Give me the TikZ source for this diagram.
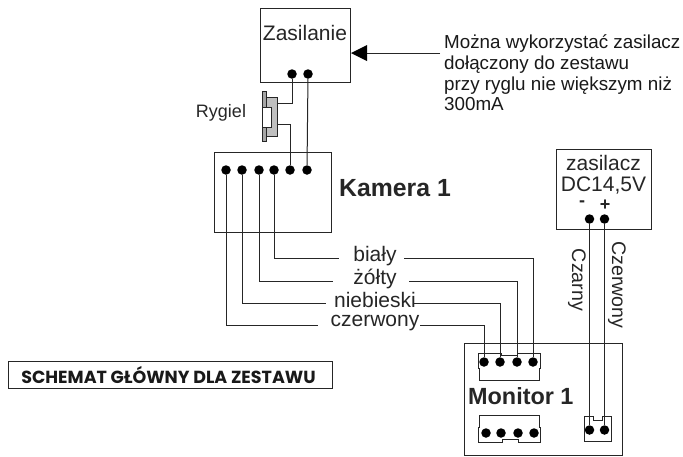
\documentclass[tikz,border=0pt]{standalone}
\usepackage{fontspec}
\setmainfont{Liberation Sans}
\newfontfamily\schemfont{Poppins}
\tikzset{
 x=1pt,y=-1pt,
 wire/.style={line width=1pt,draw=black!85},
 boxy/.style={line width=1pt,draw=black!85},
 term/.style={circle,fill=black,inner sep=0pt,minimum size=9.5pt},
 lbl/.style={inner sep=0pt,font=\fontsize{21}{23}\selectfont,text=black!85},
 blbl/.style={inner sep=0pt,font=\fontsize{24.8}{26}\bfseries\selectfont,text=black!85},
 small/.style={inner sep=0pt,align=left,anchor=north west,font=\fontsize{18.8}{20.8}\selectfont,text=black!90}
}
\begin{document}
\begin{tikzpicture}
\useasboundingbox (0,0) rectangle (683,456);
\fill[white] (0,0) rectangle (683,456);
% boxes
\draw[boxy] (260.5,8) rectangle (350,82);
\draw[boxy] (214,152) rectangle (331,232);
\draw[boxy] (556,149) rectangle (651,229);
\draw[boxy] (464,343) rectangle (622,455);
\draw[boxy] (8,361) rectangle (332,388);
% terminals
\node[term] (za) at (292,74) {};
\node[term] (zb) at (308,74) {};
\node[term] (k1) at (226,170) {};
\node[term] (k2) at (242,170) {};
\node[term] (k3) at (259,170) {};
\node[term] (k4) at (274,170) {};
\node[term] (k5) at (290,170) {};
\node[term] (k6) at (307,170) {};
\node[term] (pm) at (589.5,219) {};
\node[term] (pp) at (604.5,219) {};
\node[term] (m1) at (484,362) {};
\node[term] (m2) at (500,362) {};
\node[term] (m3) at (517,362) {};
\node[term] (m4) at (533,362) {};
\node[term] (l1) at (486,433) {};
\node[term] (l2) at (501,433) {};
\node[term] (l3) at (518,433) {};
\node[term] (l4) at (534,433) {};
\node[term] (s1) at (589.5,430) {};
\node[term] (s2) at (604.5,430) {};
% latch
\draw[boxy,fill=black!25] (266,97) rectangle (277,136);
\draw[boxy,fill=black!35] (262.5,91) rectangle (266.5,141);
\draw[boxy,fill=white] (262.5,107) rectangle (271,127);
\coordinate (la) at (277,103);
\coordinate (lb) at (277,124);
\draw[wire] (za) |- (la);
\draw[wire] (lb) -| (k5);
\draw[wire] (zb) -- (k6);
% labels
\node[lbl] at (305,33) {Zasilanie};
\node[lbl,font=\fontsize{18}{20}\selectfont] (ryg) at (221,113) {Rygiel};
\node[blbl,anchor=west] at (339,188) {Kamera 1};
\node[blbl,anchor=west,font=\fontsize{23.4}{26}\bfseries\selectfont] at (468,396) {Monitor 1};
\node[lbl] at (603.5,163) {zasilacz};
\node[lbl] at (603.5,185.5) {DC14,5V};
\node[lbl,font=\fontsize{18}{20}\bfseries\selectfont] at (582,204) {-};
\node[lbl,font=\fontsize{18}{20}\bfseries\selectfont] at (605,205) {+};
\node[lbl,rotate=-90,font=\fontsize{19.6}{22}\selectfont] at (577,280) {Czarny};
\node[lbl,rotate=-90,font=\fontsize{19.6}{22}\selectfont] at (617,285) {Czerwony};
\node[lbl] (bi) at (375,256) {biały};
\node[lbl] (zo) at (375,279) {żółty};
\node[lbl] (ni) at (375,300) {niebieski};
\node[lbl] (cz) at (375,323.5) {czerwony};
\node[small] (note) at (444,34.5) {Można wykorzystać zasilacz\\dołączony do zestawu\\przy ryglu nie większym niż\\300mA};
\node[inner sep=0pt,font=\fontsize{17.5}{20}\bfseries\selectfont,text=black!90] at (168.5,375) {\schemfont SCHEMAT GŁÓWNY DLA ZESTAWU};
% arrow
\coordinate (atip) at (351,53);
\coordinate (aend) at (440,53);
\draw[wire] (aend) -- (360,53);
\fill[black] (atip) -- (367,45) -- (367,61) -- cycle;
% camera wires
\coordinate (b1) at (339,258); \coordinate (b2) at (404,258);
\coordinate (y1) at (333,281); \coordinate (y2) at (409,281);
\coordinate (n1) at (326,303); \coordinate (n2) at (413,303);
\coordinate (c1) at (318,325); \coordinate (c2) at (420,325);
\draw[wire] (k4) |- (b1);
\draw[wire] (k3) |- (y1);
\draw[wire] (k2) |- (n1);
\draw[wire] (k1) |- (c1);
\draw[wire] (b2) -| (m4);
\draw[wire] (y2) -| (m3);
\draw[wire] (n2) -| (m2);
\draw[wire] (c2) -| (m1);
% power wires
\draw[wire] (pm) -- (s1);
\draw[wire] (pp) -- (s2);
% connectors
\draw[boxy] (478,353) -- (501,353) -- (501,355) -- (517,355) -- (517,353) -- (540,353) -- (540,368) -- (539,368) -- (539,380) -- (479,380) -- (479,368) -- (478,368) -- cycle;
\draw[boxy] (479,415) -- (539,415) -- (539,427) -- (540,427) -- (540,442) -- (518,442) -- (518,439) -- (502,439) -- (502,442) -- (478,442) -- (478,427) -- (479,427) -- cycle;
\draw[boxy] (584,416) -- (593,416) -- (593,420) -- (602,420) -- (602,416) -- (611,416) -- (611,441) -- (584,441) -- cycle;
\end{tikzpicture}
\end{document}
